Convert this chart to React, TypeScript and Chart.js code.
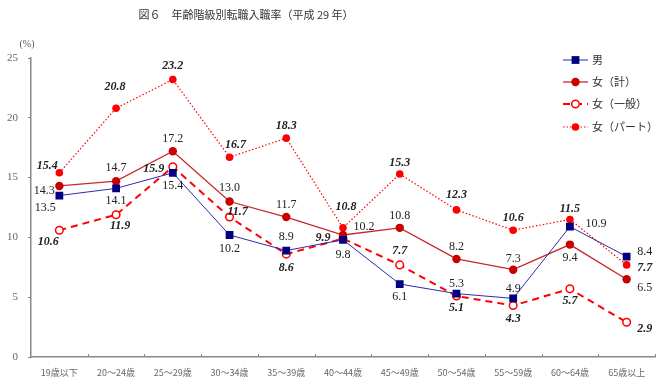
import React, { useEffect, useRef } from "react";
import { Chart, registerables } from "chart.js";

Chart.register(...registerables);

const categories = ["19歳以下", "20～24歳", "25～29歳", "30～34歳", "35～39歳", "40～44歳", "45～49歳", "50～54歳", "55～59歳", "60～64歳", "65歳以上"];
const male = [13.5, 14.1, 15.4, 10.2, 8.9, 9.8, 6.1, 5.3, 4.9, 10.9, 8.4];
const femaleTotal = [14.3, 14.7, 17.2, 13.0, 11.7, 10.2, 10.8, 8.2, 7.3, 9.4, 6.5];
const femaleGeneral = [10.6, 11.9, 15.9, 11.7, 8.6, 9.9, 7.7, 5.1, 4.3, 5.7, 2.9];
const femalePart = [15.4, 20.8, 23.2, 16.7, 18.3, 10.8, 15.3, 12.3, 10.6, 11.5, 7.7];
const seriesNames = ["男", "女（計）", "女（一般）", "女（パート）"];
const titleText = "図６　年齢階級別転職入職率（平成 29 年）";
const unitText = "(%)";

// label offsets (pixels) relative to each point, per series
const labelOffsets: number[][][] = [
  [[-14, 12], [0, 12], [0, 13], [0, 14], [0, -14], [0, 15], [0, 13], [0, -10], [0, -10], [26, -3], [18, -5]],
  [[-15, 5], [0, -13], [0, -12], [0, -14], [0, -12], [21, -8], [0, -12], [0, -12], [0, -11], [0, 13], [18, 9]],
  [[-11, 12], [4, 11], [-19, 2], [8, -5], [0, 14], [-20, -1], [0, -14], [0, 12], [0, 13], [0, 12], [18, 7]],
  [[-12, -7], [-1, -21], [0, -14], [6, -12], [0, -12], [3, -21], [0, -11], [0, -15], [0, -12], [0, -11], [18, 3]],
];
const labelItalic = [false, false, true, true];

const SERIF = "'Liberation Serif', 'DejaVu Serif', serif";
const JP = "'Noto Sans CJK JP', sans-serif";

function drawMarker(ctx: CanvasRenderingContext2D, ds: any, x: number, y: number) {
  const r = ds.pointRadius;
  ctx.save();
  ctx.setLineDash([]);
  ctx.fillStyle = ds.pointBackgroundColor;
  ctx.strokeStyle = ds.pointBorderColor;
  ctx.lineWidth = ds.pointBorderWidth;
  ctx.beginPath();
  if (ds.pointStyle === "rect") {
    const s = Math.SQRT1_2 * r;
    ctx.rect(x - s, y - s, 2 * s, 2 * s);
  } else {
    ctx.arc(x, y, r, 0, Math.PI * 2);
  }
  ctx.fill();
  if (ds.pointBorderWidth > 0) ctx.stroke();
  ctx.restore();
}

const overlay = {
  id: "overlay",
  afterDatasetsDraw(chart: any) {
    const ctx: CanvasRenderingContext2D = chart.ctx;
    ctx.save();
    chart.data.datasets.forEach((ds: any, di: number) => {
      const meta = chart.getDatasetMeta(di);
      ctx.font = (labelItalic[di] ? "italic bold " : "") + "12px " + SERIF;
      ctx.fillStyle = "#222";
      ctx.textAlign = "center";
      ctx.textBaseline = "middle";
      meta.data.forEach((pt: any, i: number) => {
        const off = labelOffsets[di][i];
        ctx.fillText(Number(ds.data[i]).toFixed(1), pt.x + off[0], pt.y + off[1]);
      });
    });
    ctx.restore();
  },
  afterDraw(chart: any) {
    const ctx: CanvasRenderingContext2D = chart.ctx;
    const area = chart.chartArea;
    ctx.save();
    // title
    ctx.font = "11px " + JP;
    ctx.fillStyle = "#333";
    ctx.textAlign = "center";
    ctx.textBaseline = "middle";
    ctx.fillText(titleText, 246, 15);
    // unit
    ctx.font = "10px " + SERIF;
    ctx.fillStyle = "#555";
    ctx.fillText(unitText, 27, 44);
    // x tick marks (inside)
    ctx.strokeStyle = "#888";
    ctx.lineWidth = 1;
    for (let i = 1; i <= categories.length; i++) {
      const x = Math.round(area.left + (i * (area.right - area.left)) / categories.length) + 0.5;
      ctx.beginPath();
      ctx.moveTo(x, area.bottom);
      ctx.lineTo(x, area.bottom - 3);
      ctx.stroke();
    }
    // legend
    const lx0 = 563, lx1 = 588, tx = 592;
    const rows = [60, 82, 104, 127];
    chart.data.datasets.forEach((ds: any, di: number) => {
      const y = rows[di];
      ctx.save();
      ctx.strokeStyle = ds.borderColor;
      ctx.lineWidth = ds.borderWidth;
      ctx.setLineDash(ds.borderDash || []);
      ctx.beginPath();
      ctx.moveTo(lx0, y);
      ctx.lineTo(lx1, y);
      ctx.stroke();
      ctx.restore();
      drawMarker(ctx, ds, (lx0 + lx1) / 2, y);
      ctx.font = "11px " + JP;
      ctx.fillStyle = "#333";
      ctx.textAlign = "left";
      ctx.textBaseline = "middle";
      ctx.fillText(seriesNames[di], tx, y);
    });
    ctx.restore();
  },
};

export default function App() {
  const ref = useRef<HTMLCanvasElement | null>(null);
  useEffect(() => {
    if (!ref.current) return;
    const chart = new Chart(ref.current, {
      type: "line",
      data: {
        labels: categories,
        datasets: [
          {
            label: seriesNames[0],
            data: male,
            borderColor: "#2B2BA8",
            borderWidth: 1,
            pointStyle: "rect",
            pointRadius: 5.5,
            pointBackgroundColor: "#000080",
            pointBorderColor: "#000080",
            pointBorderWidth: 0,
            tension: 0,
          },
          {
            label: seriesNames[1],
            data: femaleTotal,
            borderColor: "#C8282D",
            borderWidth: 1.3,
            pointStyle: "circle",
            pointRadius: 4.2,
            pointBackgroundColor: "#C80000",
            pointBorderColor: "#C80000",
            pointBorderWidth: 0,
            tension: 0,
          },
          {
            label: seriesNames[2],
            data: femaleGeneral,
            borderColor: "#FF0000",
            borderWidth: 2,
            borderDash: [7, 5],
            pointStyle: "circle",
            pointRadius: 3.8,
            pointBackgroundColor: "#FFFFFF",
            pointBorderColor: "#FF0000",
            pointBorderWidth: 1.5,
            tension: 0,
          },
          {
            label: seriesNames[3],
            data: femalePart,
            borderColor: "#FF0000",
            borderWidth: 1.2,
            borderDash: [1.5, 2],
            pointStyle: "circle",
            pointRadius: 3.8,
            pointBackgroundColor: "#FF0000",
            pointBorderColor: "#FF0000",
            pointBorderWidth: 0,
            tension: 0,
          },
        ],
      },
      options: {
        animation: false,
        responsive: true,
        maintainAspectRatio: false,
        layout: { padding: { top: 58, right: 14, left: 0, bottom: 0 } },
        plugins: {
          legend: { display: false },
          title: { display: false },
          tooltip: { enabled: false },
        },
        scales: {
          x: {
            offset: true,
            grid: { display: false },
            border: { color: "#888", width: 1.5 },
            ticks: {
              padding: 3,
              color: "#666",
              font: { size: 9, family: JP, lineHeight: 1 },
              maxRotation: 0,
              autoSkip: false,
            },
            afterFit: (s: any) => { s.height = 22; },
          },
          y: {
            min: 0,
            max: 25,
            grid: { display: true, drawOnChartArea: false, tickLength: 3, color: "#888" },
            border: { color: "#888", width: 1.5 },
            ticks: {
              stepSize: 5,
              padding: 10,
              color: "#666",
              font: { size: 11, family: SERIF },
            },
            afterFit: (s: any) => { s.width = 31; },
          },
        },
      },
      plugins: [overlay],
    });
    return () => chart.destroy();
  }, []);
  return (
    <div style={{ position: "fixed", left: 0, top: 0, width: 669, height: 379, background: "#fff" }}>
      <canvas ref={ref} />
    </div>
  );
}
